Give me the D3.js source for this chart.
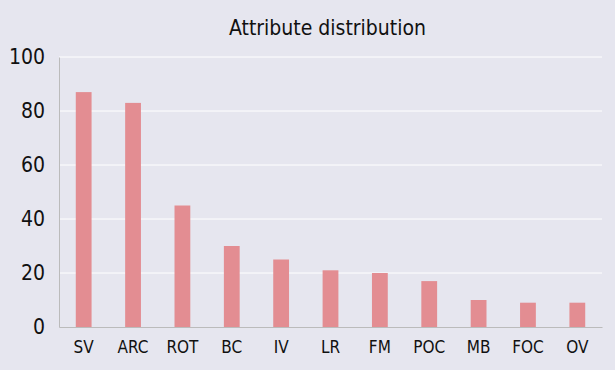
<!DOCTYPE html>
<html>
<head>
<meta charset="utf-8">
<script src="https://cdn.jsdelivr.net/npm/d3@7"></script>
<style>
  body { margin: 0; background: #e6e6ef; }
  text { font-family: "DejaVu Sans Condensed", "DejaVu Sans", sans-serif; font-stretch: condensed; }
</style>
</head>
<body>
<div id="chart"></div>
<script>
const categories = ["SV", "ARC", "ROT", "BC", "IV", "LR", "FM", "POC", "MB", "FOC", "OV"];
const values = [87, 83, 45, 30, 25, 21, 20, 17, 10, 9, 9];
const yTicks = [0, 20, 40, 60, 80, 100];
const title = "Attribute distribution";

const W = 615, H = 370;
const margin = { top: 57, right: 13, bottom: 43, left: 59 };
const width = W - margin.left - margin.right;
const height = H - margin.top - margin.bottom;

const svg = d3.select("#chart").append("svg")
    .attr("width", W)
    .attr("height", H);

svg.append("rect").attr("width", W).attr("height", H).attr("fill", "#e6e6ef");

svg.append("text")
    .attr("x", margin.left + width / 2 - 3)
    .attr("y", 35)
    .attr("text-anchor", "middle")
    .style("font-size", "21px")
    .attr("fill", "#111")
    .text(title);

const g = svg.append("g").attr("transform", `translate(${margin.left},${margin.top})`);

const x = d3.scaleBand().domain(categories).range([0, width]).paddingInner(0.68).paddingOuter(0.34);
const y = d3.scaleLinear().domain([0, 100]).range([height, 0]);

// gridlines
g.selectAll("line.grid").data(yTicks.filter(d => d > 0)).enter().append("line")
    .attr("class", "grid")
    .attr("x1", 0).attr("x2", width)
    .attr("y1", d => y(d)).attr("y2", d => y(d))
    .attr("stroke", "#fff").attr("stroke-width", 1);

g.selectAll("rect.bar").data(values).enter().append("rect")
    .attr("class", "bar")
    .attr("x", (d, i) => x(categories[i]))
    .attr("y", d => y(d))
    .attr("width", x.bandwidth())
    .attr("height", d => height - y(d))
    .attr("fill", "#e38d92");

// axes
const yAxis = g.append("g").call(d3.axisLeft(y).tickValues(yTicks).tickSize(0).tickPadding(14));
yAxis.select(".domain").attr("stroke", "#bbb");
yAxis.selectAll("text").style("font-size", "21px").attr("fill", "#111");

const xAxis = g.append("g").attr("transform", `translate(0,${height})`)
    .call(d3.axisBottom(x).tickSize(0).tickPadding(14));
xAxis.select(".domain").attr("stroke", "#bbb");
xAxis.selectAll("text").style("font-size", "17px").attr("fill", "#111");
</script>
</body>
</html>
